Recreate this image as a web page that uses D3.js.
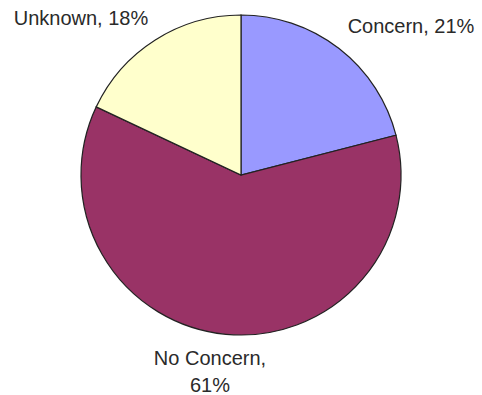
<!DOCTYPE html>
<html>
<head>
<meta charset="utf-8">
<script src="https://cdn.jsdelivr.net/npm/d3@7"></script>
<style>
  body { margin: 0; background: #fff; }
  text { font-family: Arial, "Liberation Sans", sans-serif; fill: #2a2a2a; }
</style>
</head>
<body>
<div id="chart"></div>
<script>
const categories = ["Concern", "No Concern", "Unknown"];
const values = [21, 61, 18];
const colors = ["#9999ff", "#993366", "#ffffcc"];
// label lines as they appear in the picture
const labelLines = [["Concern, 21%"], ["No Concern,", "61%"], ["Unknown, 18%"]];

const width = 482, height = 395;
const cx = 241, cy = 175, radius = 160;

const svg = d3.select("#chart").append("svg")
  .attr("width", width)
  .attr("height", height);

const g = svg.append("g")
  .attr("transform", "translate(" + cx + "," + cy + ")");

const pie = d3.pie().sort(null).value(d => d)(values);
const arc = d3.arc().innerRadius(0).outerRadius(radius);

g.selectAll("path")
  .data(pie)
  .enter().append("path")
  .attr("d", arc)
  .attr("fill", (d, i) => colors[i])
  .attr("stroke", "#222")
  .attr("stroke-width", 1.2);

// label anchor positions (relative to pie centre)
const labelPos = [
  { x: 170, y: -142, anchor: "middle" },
  { x: -31, y: 190, anchor: "middle" },
  { x: -160, y: -150, anchor: "middle" }
];

labelLines.forEach((lines, i) => {
  const t = g.append("text")
    .attr("x", labelPos[i].x)
    .attr("y", labelPos[i].y)
    .attr("text-anchor", labelPos[i].anchor)
    .style("font-size", "20px");
  lines.forEach((l, j) => {
    t.append("tspan")
      .attr("x", labelPos[i].x)
      .attr("dy", j === 0 ? 0 : 27)
      .text(l);
  });
});
</script>
</body>
</html>
